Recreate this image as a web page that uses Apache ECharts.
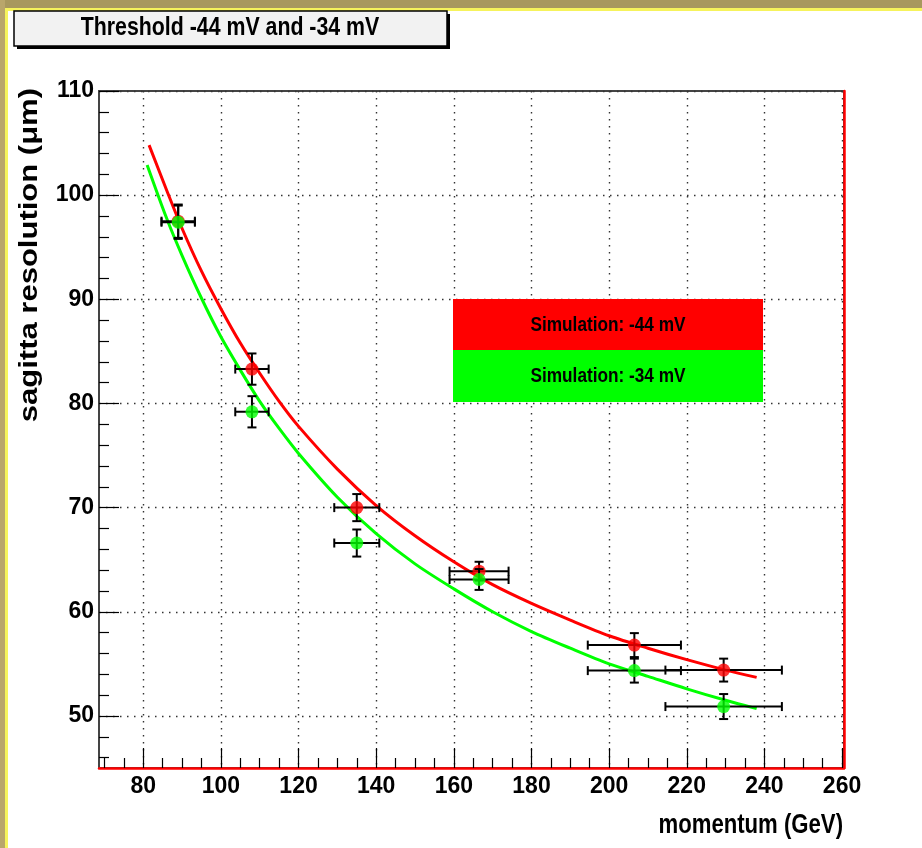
<!DOCTYPE html>
<html>
<head>
<meta charset="utf-8">
<script src="https://cdn.jsdelivr.net/npm/echarts@6/dist/echarts.min.js"></script>
<style>
html,body{margin:0;padding:0;background:#ffffff;}
#chart{position:absolute;left:0;top:0;width:922px;height:848px;}
</style>
</head>
<body>
<div id="chart"></div>
<script>
// ---- data ----
const majorXTicks = [80, 100, 120, 140, 160, 180, 200, 220, 240, 260];
const minorXTicks = [70, 75, 85, 90, 95, 105, 110, 115, 125, 130, 135, 145, 150, 155, 165, 170, 175, 185, 190, 195, 205, 210, 215, 225, 230, 235, 245, 250, 255];
const majorYTicks = [50, 60, 70, 80, 90, 100, 110];
const minorYTicks = [46, 48, 52, 54, 56, 58, 62, 64, 66, 68, 72, 74, 76, 78, 82, 84, 86, 88, 92, 94, 96, 98, 102, 104, 106, 108];

const pointX = [89, 108, 135, 166.5, 206.5, 229.5];
const errX = [4.3, 4.3, 5.8, 7.6, 12, 15];
const redY = [97.5, 83.3, 70.0, 63.9, 56.8, 54.4];
const redErrY = [1.6, 1.5, 1.3, 0.9, 1.15, 1.1];
const greenY = [97.4, 79.2, 66.6, 63.1, 54.35, 50.9];
const greenErrY = [1.6, 1.5, 1.3, 1.0, 1.15, 1.2];

const redCurveX = [81.5, 86, 90, 95, 100, 105, 110, 115, 120, 130, 140, 150, 160, 170, 180, 190, 200, 210, 220, 230, 238];
const redCurveY = [104.8, 100.5, 96.8, 92.7, 89.1, 85.8, 82.9, 80.2, 77.8, 73.7, 70.2, 67.3, 64.8, 62.6, 60.8, 59.2, 57.7, 56.5, 55.4, 54.4, 53.7];
const greenCurveX = [81, 86, 90, 95, 100, 105, 110, 115, 120, 130, 140, 150, 160, 170, 180, 190, 200, 210, 220, 230, 238];
const greenCurveY = [102.9, 97.8, 94.2, 90.1, 86.4, 83.2, 80.2, 77.6, 75.2, 71.0, 67.5, 64.6, 62.2, 60.0, 58.1, 56.5, 55.0, 53.8, 52.6, 51.5, 50.7];

const titleText = 'Threshold -44 mV and -34 mV';
const xTitle = 'momentum (GeV)';
const yTitle = 'sagitta resolution (\u03bcm)';
const legendTexts = ['Simulation: -44 mV', 'Simulation: -34 mV'];

const X_MIN = 68.6, X_MAX = 260.5, Y_MIN = 45, Y_MAX = 110;

// ---- font detection ----
function hasFont(f) {
  const c = document.createElement('canvas').getContext('2d');
  c.font = 'bold 40px monospace';
  const a = c.measureText('Threshold 0123456789').width;
  c.font = 'bold 40px "' + f + '", monospace';
  const b = c.measureText('Threshold 0123456789').width;
  return Math.abs(a - b) > 0.5;
}
const narrow = hasFont('Liberation Sans Narrow');
const tickFont = narrow ? { fontFamily: 'Liberation Sans Narrow', fontSize: 27 } : { fontFamily: 'Liberation Sans', fontSize: 23 };

const zip = (xs, ys) => xs.map((x, i) => [x, ys[i]]);
const errData = (ys, eys) => pointX.map((x, i) => [x, ys[i], errX[i], eys[i]]);

function errRender(params, api) {
  const x = api.value(0), y = api.value(1), ex = api.value(2), ey = api.value(3);
  const l = api.coord([x - ex, y]), r = api.coord([x + ex, y]);
  const t = api.coord([x, y + ey]), b = api.coord([x, y - ey]);
  const cap = 4.5;
  const st = { stroke: '#000', lineWidth: 2 };
  const seg = (x1, y1, x2, y2) => ({ type: 'line', shape: { x1, y1, x2, y2 }, style: st });
  return {
    type: 'group',
    children: [
      seg(l[0], l[1], r[0], r[1]),
      seg(t[0], t[1], b[0], b[1]),
      seg(l[0], l[1] - cap, l[0], l[1] + cap),
      seg(r[0], r[1] - cap, r[0], r[1] + cap),
      seg(t[0] - cap, t[1], t[0] + cap, t[1]),
      seg(b[0] - cap, b[1], b[0] + cap, b[1])
    ]
  };
}

const chart = echarts.init(document.getElementById('chart'), null, { renderer: 'canvas' });
const gridLine = { show: true, lineStyle: { color: '#333', width: 1.4, type: [1.5, 5.5] } };
const lbl = Object.assign({ color: '#000', fontWeight: 'bold' }, tickFont);

const F = 'bold %spx "Liberation Sans", Arial, sans-serif';
const font = s => F.replace('%s', s);

chart.setOption({
  animation: false,
  backgroundColor: '#ffffff',
  grid: { left: 99, right: 78, top: 91, bottom: 80, show: true, borderColor: '#444', borderWidth: 2, backgroundColor: 'transparent' },
  xAxis: [
    {
      type: 'value', min: X_MIN, max: X_MAX, position: 'bottom',
      axisLine: { show: true, onZero: false, lineStyle: { color: '#ff0000', width: 2.5 } },
      axisTick: { show: true, inside: true, length: 20, customValues: majorXTicks, lineStyle: { color: '#000', width: 1.2 } },
      axisLabel: Object.assign({ show: true, margin: 7, customValues: majorXTicks }, lbl),
      splitLine: gridLine
    },
    {
      type: 'value', min: X_MIN, max: X_MAX, position: 'bottom',
      axisLine: { show: false },
      axisTick: { show: true, inside: true, length: 10, customValues: minorXTicks, lineStyle: { color: '#000', width: 1.2 } },
      axisLabel: { show: false },
      splitLine: { show: false }
    }
  ],
  yAxis: [
    {
      type: 'value', min: Y_MIN, max: Y_MAX, position: 'left',
      axisLine: { show: true, onZero: false, lineStyle: { color: '#444', width: 2 } },
      axisTick: { show: true, inside: true, length: 20, customValues: majorYTicks, lineStyle: { color: '#000', width: 1.2 } },
      axisLabel: Object.assign({ show: true, margin: 5, customValues: majorYTicks }, lbl),
      splitLine: gridLine
    },
    {
      type: 'value', min: Y_MIN, max: Y_MAX, position: 'left',
      axisLine: { show: false },
      axisTick: { show: true, inside: true, length: 10, customValues: minorYTicks, lineStyle: { color: '#000', width: 1.2 } },
      axisLabel: { show: false },
      splitLine: { show: false }
    },
    {
      type: 'value', min: Y_MIN, max: Y_MAX, position: 'right',
      axisLine: { show: true, onZero: false, lineStyle: { color: '#ff0000', width: 2.5 } },
      axisTick: { show: false }, axisLabel: { show: false }, splitLine: { show: false }
    }
  ],
  series: [
    { type: 'line', data: zip(redCurveX, redCurveY), smooth: 0.3, showSymbol: false, lineStyle: { color: '#ff0000', width: 3 }, z: 2 },
    { type: 'line', data: zip(greenCurveX, greenCurveY), smooth: 0.3, showSymbol: false, lineStyle: { color: '#00ff00', width: 3 }, z: 2 },
    { type: 'custom', renderItem: errRender, data: errData(redY, redErrY), z: 3 },
    { type: 'scatter', data: zip(pointX, redY), symbol: 'circle', symbolSize: 13, itemStyle: { color: '#ff0000' }, z: 4 },
    { type: 'custom', renderItem: errRender, data: errData(greenY, greenErrY), z: 5 },
    { type: 'scatter', data: zip(pointX, greenY), symbol: 'circle', symbolSize: 13, itemStyle: { color: '#00ff00' }, z: 6 }
  ],
  graphic: [
    // outer khaki / yellow frame
    { type: 'rect', z: 100, shape: { x: 0, y: 0, width: 922, height: 8 }, style: { fill: '#a8985e' } },
    { type: 'rect', z: 100, shape: { x: 0, y: 8, width: 922, height: 3 }, style: { fill: '#f6f35c' } },
    { type: 'rect', z: 101, shape: { x: 0, y: 0, width: 5, height: 848 }, style: { fill: '#b9a66b' } },
    { type: 'rect', z: 101, shape: { x: 5, y: 8, width: 3, height: 840 }, style: { fill: '#f6f35c' } },
    // title box
    { type: 'rect', z: 100, shape: { x: 17, y: 14, width: 433, height: 35 }, style: { fill: '#000' } },
    { type: 'rect', z: 101, shape: { x: 14, y: 11, width: 433, height: 35 }, style: { fill: '#f2f2f2', stroke: '#000', lineWidth: 1.5 } },
    { type: 'text', z: 102, x: 230, y: 28, scaleX: 0.82, style: { text: titleText, font: font(26), fill: '#000', align: 'center', verticalAlign: 'middle' } },
    // axis titles
    { type: 'text', z: 102, x: 843, y: 826, scaleX: 0.82, style: { text: xTitle, font: font(27), fill: '#000', align: 'right', verticalAlign: 'middle' } },
    { type: 'text', z: 102, x: 30, y: 88, rotation: Math.PI / 2, scaleY: 0.82, style: { text: yTitle, font: font(31), fill: '#000', align: 'right', verticalAlign: 'middle' } },
    // legend
    { type: 'rect', z: 100, shape: { x: 453, y: 299, width: 310, height: 51 }, style: { fill: '#ff0000' } },
    { type: 'rect', z: 100, shape: { x: 453, y: 350, width: 310, height: 52 }, style: { fill: '#00ff00' } },
    { type: 'text', z: 102, x: 608, y: 325, scaleX: 0.82, style: { text: legendTexts[0], font: font(21), fill: '#000', align: 'center', verticalAlign: 'middle' } },
    { type: 'text', z: 102, x: 608, y: 376, scaleX: 0.82, style: { text: legendTexts[1], font: font(21), fill: '#000', align: 'center', verticalAlign: 'middle' } }
  ]
});
</script>
</body>
</html>
